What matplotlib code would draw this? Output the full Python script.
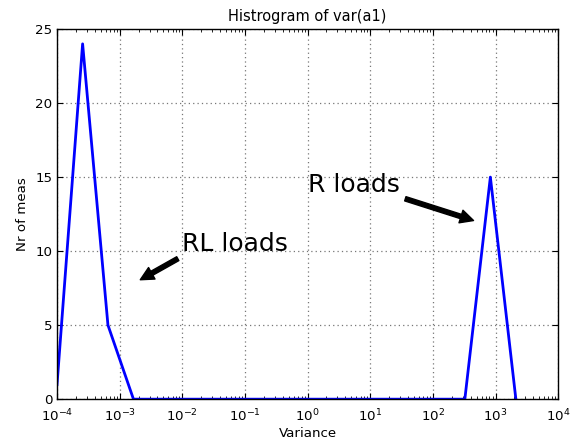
import matplotlib
matplotlib.use("Agg")
import matplotlib.pyplot as plt
from matplotlib.ticker import LogLocator

# bin centres (variance) and counts
variance = [1.0e-4, 2.56e-4, 6.5e-4, 1.66e-3, 4.24e-3, 1.08e-2, 2.76e-2, 7.05e-2,
            0.18, 0.46, 1.17, 2.99, 7.64, 19.5, 49.8, 127.0, 324.0, 828.0, 2115.0]
counts = [1, 24, 5, 0, 0, 0, 0, 0, 0, 0, 0, 0, 0, 0, 0, 0, 0, 15, 0]

title = "Histrogram of var(a1)"
xlabel = "Variance"
ylabel = "Nr of meas"
ann_rl = ("RL loads", (2e-3, 8), (1e-2, 10))
ann_r = ("R loads", (500, 12), (1.0, 14))

fig = plt.figure(figsize=(5.82, 4.47), dpi=100, facecolor="white")
ax = fig.add_axes([0.098, 0.107, 0.861, 0.828])
ax.plot(variance, counts, color="#0000ff", lw=2)
ax.set_xscale("log")
ax.set_xlim(1e-4, 1e4)
ax.set_ylim(0, 25)
ax.set_yticks([0, 5, 10, 15, 20, 25])
ax.xaxis.set_major_locator(LogLocator(base=10, numticks=20))
ax.xaxis.set_minor_locator(LogLocator(base=10, subs=range(2, 10), numticks=100))
ax.grid(True, which="major", color="#777777", linestyle=(0, (1, 2.5)), linewidth=0.9)
ax.tick_params(which="both", direction="in", top=True, right=True, labelsize=9.6)
ax.tick_params(which="major", length=4)
ax.tick_params(which="minor", length=2)
ax.tick_params(axis="x", which="major", pad=6)
for s in ax.spines.values():
    s.set_linewidth(1.0)

ax.set_title(title, fontsize=10.5, pad=6)
ax.set_xlabel(xlabel, fontsize=9.6, labelpad=2)
ax.set_ylabel(ylabel, fontsize=9.6, labelpad=4)

arrowprops = dict(facecolor="black", edgecolor="black", shrink=0.04,
                  width=3.2, headwidth=9.5, headlength=9.5)
for text, xy, xytext in (ann_rl, ann_r):
    ax.annotate(text, xy=xy, xytext=xytext, fontsize=18,
                arrowprops=arrowprops)

fig.savefig("out.png", dpi=100, facecolor="white")
